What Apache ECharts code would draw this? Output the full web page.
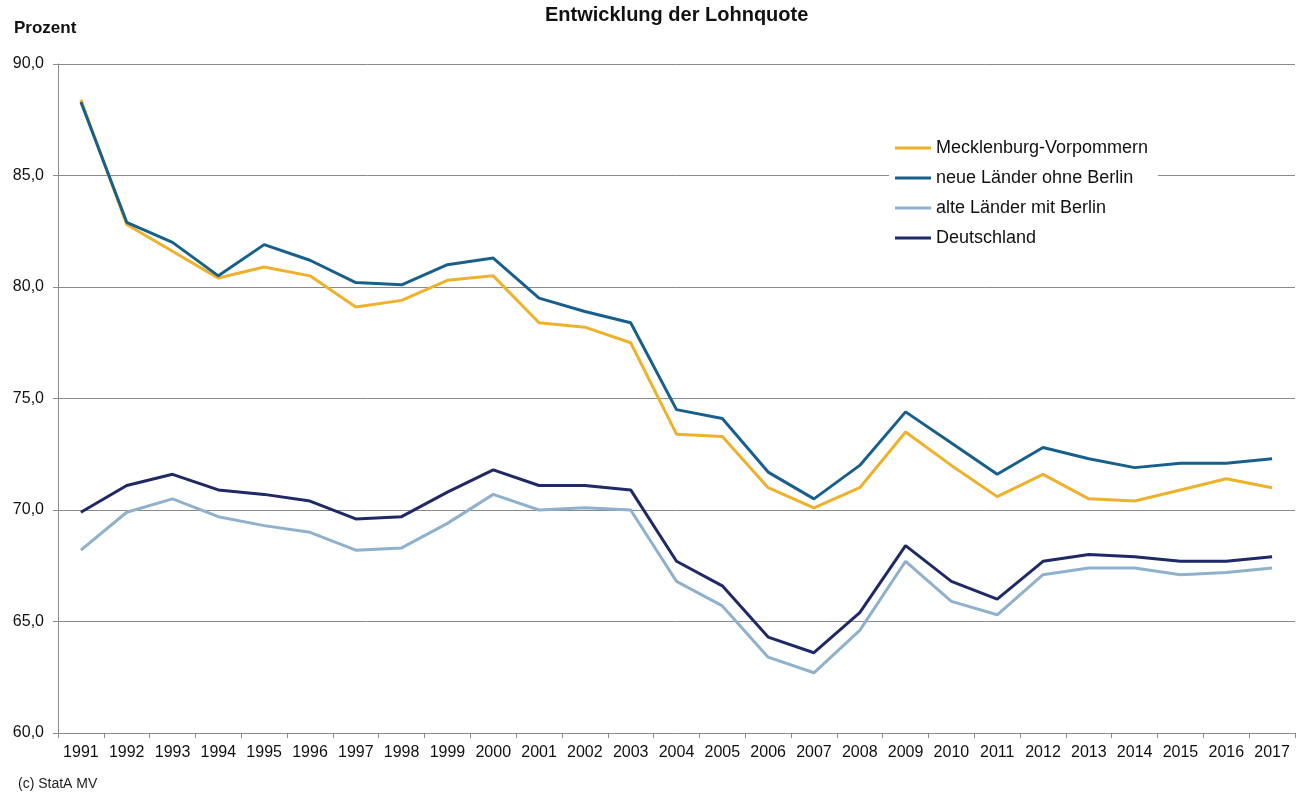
<!DOCTYPE html>
<html>
<head>
<meta charset="utf-8">
<title>Entwicklung der Lohnquote</title>
<script src="https://cdn.jsdelivr.net/npm/echarts@6/dist/echarts.min.js"></script>
<style>
    html, body {margin: 0; padding: 0; background: #fff;}
    #lohnquote_chart {width: 1304px; height: 795px;}
</style>
</head>
<body>
<div id="lohnquote_chart"></div>
<script>
// Jahre
var jahre = ['1991','1992','1993','1994','1995','1996','1997','1998','1999','2000','2001','2002','2003','2004',
    '2005','2006','2007','2008','2009','2010','2011','2012','2013','2014','2015','2016','2017'];

// Lohnquote in Prozent
var mecklenburgVorpommern = [88.4, 82.8, 81.6, 80.4, 80.9, 80.5, 79.1, 79.4, 80.3, 80.5, 78.4, 78.2, 77.5, 73.4,
    73.3, 71.0, 70.1, 71.0, 73.5, 72.0, 70.6, 71.6, 70.5, 70.4, 70.9, 71.4, 71.0];
var neueLaender = [88.3, 82.9, 82.0, 80.5, 81.9, 81.2, 80.2, 80.1, 81.0, 81.3, 79.5, 78.9, 78.4, 74.5,
    74.1, 71.7, 70.5, 72.0, 74.4, 73.0, 71.6, 72.8, 72.3, 71.9, 72.1, 72.1, 72.3];
var alteLaender = [68.2, 69.9, 70.5, 69.7, 69.3, 69.0, 68.2, 68.3, 69.4, 70.7, 70.0, 70.1, 70.0, 66.8,
    65.7, 63.4, 62.7, 64.6, 67.7, 65.9, 65.3, 67.1, 67.4, 67.4, 67.1, 67.2, 67.4];
var deutschland = [69.9, 71.1, 71.6, 70.9, 70.7, 70.4, 69.6, 69.7, 70.8, 71.8, 71.1, 71.1, 70.9, 67.7,
    66.6, 64.3, 63.6, 65.4, 68.4, 66.8, 66.0, 67.7, 68.0, 67.9, 67.7, 67.7, 67.9];

var reihenNamen = ['Mecklenburg-Vorpommern','neue Länder ohne Berlin','alte Länder mit Berlin','Deutschland'];
var reihenWerte = [mecklenburgVorpommern, neueLaender, alteLaender, deutschland];
var reihenFarben = ['#EEB22A','#18608B','#8FB1CB','#1E2966'];

var lohnquote_chart = echarts.init(document.getElementById('lohnquote_chart'));

var schrift = '"Liberation Sans", Arial, sans-serif';

var option_lohnquote = {
    animation: false,
    color: reihenFarben,
    textStyle: {fontFamily: schrift},
    title: [
        {
            text: 'Entwicklung der Lohnquote',
            left: 540,
            top: 0,
            textStyle: {fontSize: 20, fontWeight: 'bold', color: '#111', fontFamily: schrift}
        },
        {
            text: 'Prozent',
            left: 9,
            top: 15,
            textStyle: {fontSize: 17, fontWeight: 'bold', color: '#111', fontFamily: schrift}
        },
        {
            text: '(c) StatA MV',
            left: 13,
            top: 772,
            textStyle: {fontSize: 14, fontWeight: 'normal', color: '#222', fontFamily: schrift}
        }
    ],
    legend: {
        orient: 'vertical',
        left: 889,
        top: 133,
        backgroundColor: '#fff',
        padding: [6, 10, 6, 6],
        icon: 'rect',      // nur Linie, ohne Kreis
        itemWidth: 36,
        itemHeight: 3,
        itemGap: 12,
        textStyle: {fontSize: 18, color: '#111', fontFamily: schrift, lineHeight: 18},
        data: reihenNamen
    },
    grid: {
        left: 58,
        right: 9,
        top: 64,
        bottom: 62
    },
    xAxis: {
        type: 'category',
        boundaryGap: true,
        data: jahre,
        axisLine: {lineStyle: {color: '#8a8a8a', width: 1}},
        axisTick: {show: true, length: 5, interval: 0, lineStyle: {color: '#8a8a8a'}},
        axisLabel: {interval: 0, margin: 12, fontSize: 16, color: '#111', fontFamily: schrift}
    },
    yAxis: {
        type: 'value',
        min: 60,
        max: 90,
        interval: 5,
        axisLine: {show: true, lineStyle: {color: '#8a8a8a', width: 1}},
        axisTick: {show: true, length: 5, lineStyle: {color: '#8a8a8a'}},
        axisLabel: {
            margin: 14,
            fontSize: 16,
            color: '#111',
            fontFamily: schrift,
            formatter: function (v) {
                return v.toFixed(1).replace('.', ',');
            }
        },
        splitLine: {show: true, lineStyle: {color: '#8a8a8a', width: 1}}
    },
    series: []
};

reihenNamen.forEach(function (name, i) {
    option_lohnquote.series.push({
        name: name,
        type: 'line',
        symbol: 'none',
        data: reihenWerte[i],
        lineStyle: {width: 3, color: reihenFarben[i]},
        z: 2 + i
    });
});

lohnquote_chart.setOption(option_lohnquote);
</script>
</body>
</html>
